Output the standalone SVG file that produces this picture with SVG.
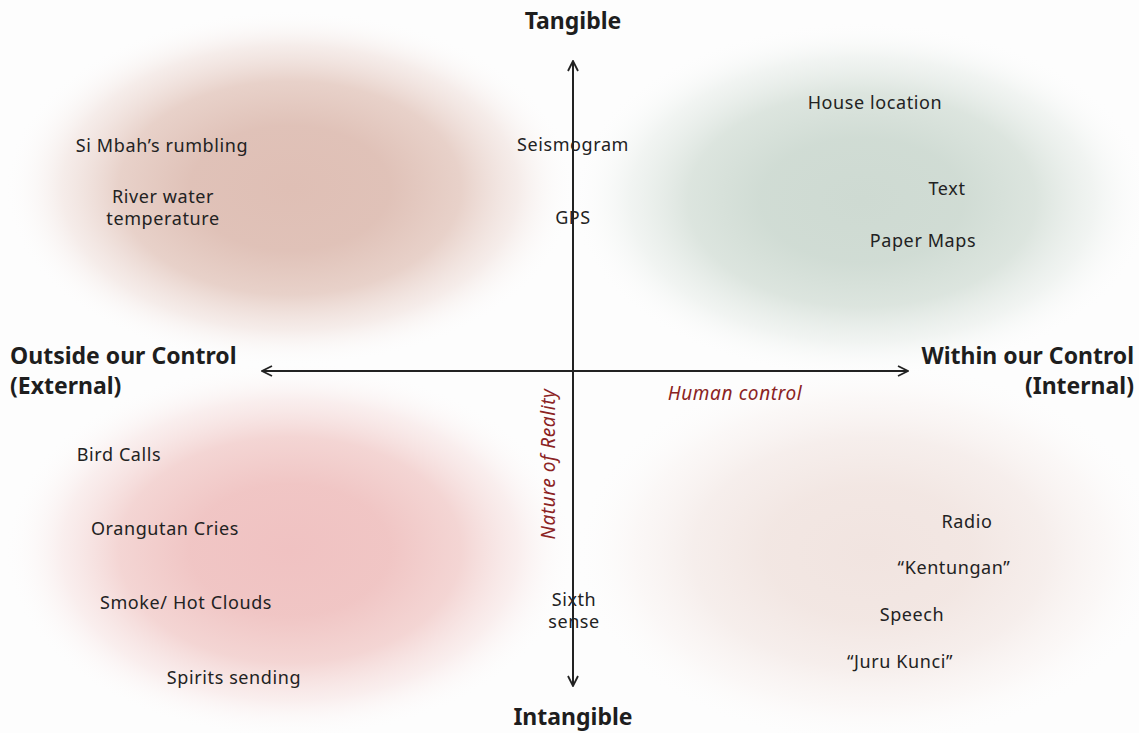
<svg xmlns="http://www.w3.org/2000/svg" width="1139" height="733" viewBox="0 0 1139 733">
<style>
.t{font-family:"Noto Sans","Liberation Sans",sans-serif;font-size:18px;letter-spacing:0.6px;fill:#222;text-anchor:middle}
.h{font-family:"Noto Sans","Liberation Sans",sans-serif;font-size:23px;font-weight:bold;fill:#1e1e1e}
.r{font-family:"Noto Sans","Liberation Sans",sans-serif;font-size:19px;letter-spacing:0.6px;font-style:italic;fill:#8b2323;text-anchor:middle}
.ax{stroke:#222;stroke-width:2;fill:none}
</style>
<defs>
<radialGradient id="gTL"><stop offset="0" stop-color="#dfbfb5"/><stop offset="0.35" stop-color="#dfc0b6" stop-opacity="0.97"/><stop offset="0.6" stop-color="#e2c5bb" stop-opacity="0.78"/><stop offset="0.8" stop-color="#ecd8d2" stop-opacity="0.45"/><stop offset="1" stop-color="#fdfdfd" stop-opacity="0"/></radialGradient>
<radialGradient id="gTR"><stop offset="0" stop-color="#cedad2"/><stop offset="0.35" stop-color="#cfdbd3" stop-opacity="0.97"/><stop offset="0.6" stop-color="#d3ded6" stop-opacity="0.78"/><stop offset="0.8" stop-color="#e2e9e4" stop-opacity="0.45"/><stop offset="1" stop-color="#fdfdfd" stop-opacity="0"/></radialGradient>
<radialGradient id="gBL"><stop offset="0" stop-color="#f0c2c2"/><stop offset="0.35" stop-color="#f0c4c3" stop-opacity="0.97"/><stop offset="0.6" stop-color="#f1cac8" stop-opacity="0.78"/><stop offset="0.8" stop-color="#f5dcdb" stop-opacity="0.45"/><stop offset="1" stop-color="#fdfdfd" stop-opacity="0"/></radialGradient>
<radialGradient id="gBR"><stop offset="0" stop-color="#f1e4e0"/><stop offset="0.35" stop-color="#f2e6e2" stop-opacity="0.97"/><stop offset="0.6" stop-color="#f4eae7" stop-opacity="0.78"/><stop offset="0.8" stop-color="#f8f1ef" stop-opacity="0.45"/><stop offset="1" stop-color="#fdfdfd" stop-opacity="0"/></radialGradient>
<marker id="ar" viewBox="0 0 12 12" refX="11" refY="6" markerWidth="12" markerHeight="12" markerUnits="userSpaceOnUse" orient="auto"><path d="M1 1 L11 6 L1 11" fill="none" stroke="#222" stroke-width="1.8"/></marker>
</defs>
<rect width="1139" height="733" fill="#fdfdfd"/>
<g id="blobs">
<ellipse cx="290" cy="188" rx="285" ry="178" fill="url(#gTL)"/>
<ellipse cx="862" cy="200" rx="290" ry="178" fill="url(#gTR)"/>
<ellipse cx="290" cy="550" rx="285" ry="188" fill="url(#gBL)"/>
<ellipse cx="870" cy="553" rx="295" ry="192" fill="url(#gBR)"/>
</g>
<g id="connectors">
<line class="ax" x1="573" y1="686" x2="573" y2="61" marker-end="url(#ar)"/>
<line class="ax" x1="573" y1="371" x2="573" y2="686" marker-end="url(#ar)"/>
<line class="ax" x1="573" y1="371" x2="262" y2="371" marker-end="url(#ar)"/>
<line class="ax" x1="573" y1="371" x2="908" y2="371" marker-end="url(#ar)"/>
</g>
<g id="axis-labels">
<text class="h" x="573" y="29" text-anchor="middle">Tangible</text>
<text class="h" x="573" y="725" text-anchor="middle">Intangible</text>
<text class="h" x="10" y="364">Outside our Control</text>
<text class="h" x="10" y="394">(External)</text>
<text class="h" x="1134" y="364" text-anchor="end">Within our Control</text>
<text class="h" x="1134" y="394" text-anchor="end">(Internal)</text>
<text class="r" x="735" y="400">Human control</text>
<text class="r" x="0" y="0" transform="translate(555 464) rotate(-90)">Nature of Reality</text>
</g>
<g id="n-simbah"><text class="t" x="162" y="152">Si Mbah’s rumbling</text></g>
<g id="n-river"><text class="t" x="163" y="203">River water</text><text class="t" x="163" y="225">temperature</text></g>
<g id="n-seismo"><text class="t" x="573" y="151">Seismogram</text></g>
<g id="n-gps"><text class="t" x="573" y="224">GPS</text></g>
<g id="n-house"><text class="t" x="875" y="109">House location</text></g>
<g id="n-text"><text class="t" x="947" y="195">Text</text></g>
<g id="n-maps"><text class="t" x="923" y="247">Paper Maps</text></g>
<g id="n-bird"><text class="t" x="119" y="461">Bird Calls</text></g>
<g id="n-orang"><text class="t" x="165" y="535">Orangutan Cries</text></g>
<g id="n-smoke"><text class="t" x="186" y="609">Smoke/ Hot Clouds</text></g>
<g id="n-spirits"><text class="t" x="234" y="684">Spirits sending</text></g>
<g id="n-sixth"><text class="t" x="574" y="606">Sixth</text><text class="t" x="574" y="628">sense</text></g>
<g id="n-radio"><text class="t" x="967" y="528">Radio</text></g>
<g id="n-kent"><text class="t" x="954" y="574">“Kentungan”</text></g>
<g id="n-speech"><text class="t" x="912" y="621">Speech</text></g>
<g id="n-juru"><text class="t" x="900" y="668">“Juru Kunci”</text></g>
</svg>
